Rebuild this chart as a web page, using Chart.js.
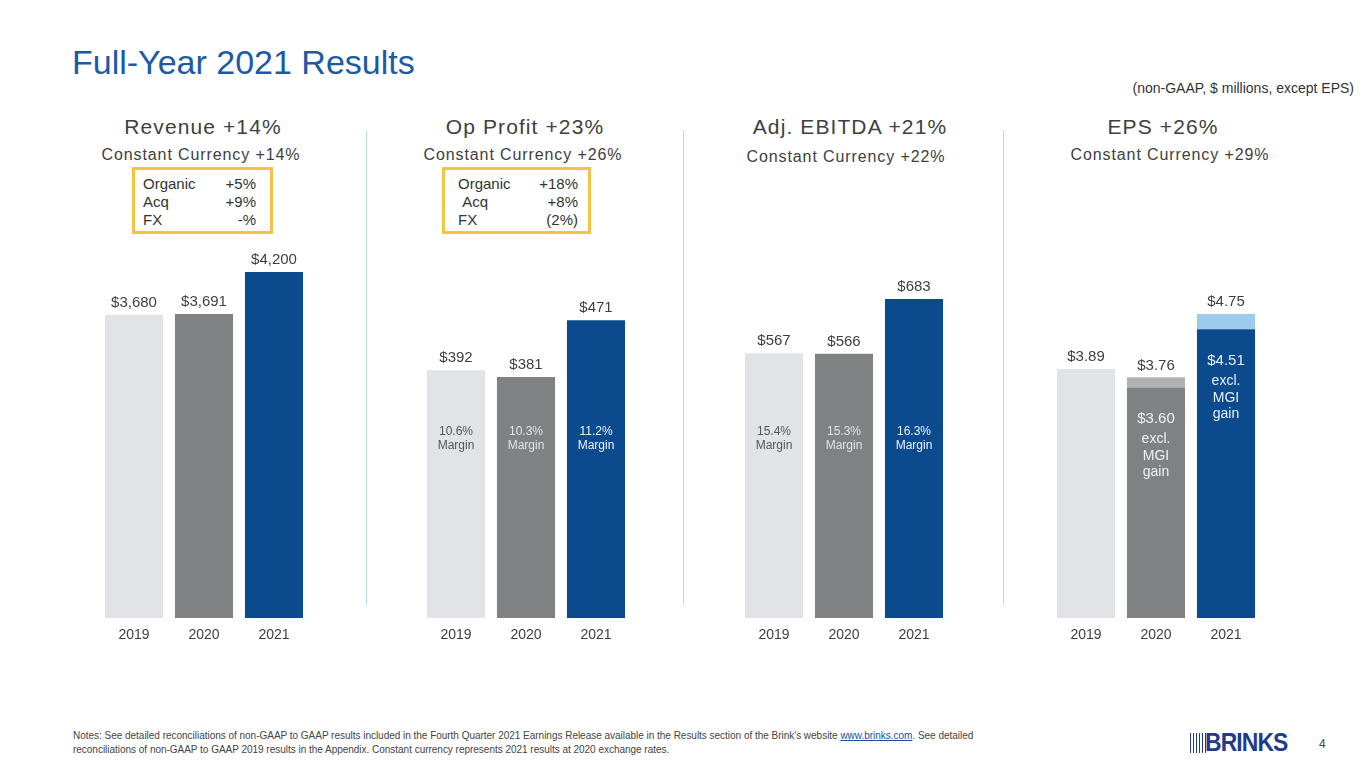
<!DOCTYPE html>
<html>
<head>
<meta charset="utf-8">
<script src="https://cdn.jsdelivr.net/npm/chart.js@4.4.1/dist/chart.umd.min.js"></script>
<style>
  body { margin: 0; width: 1365px; height: 768px; background: #fff; position: relative; overflow: hidden;
         font-family: "Liberation Sans", Arial, sans-serif; color: #404040; }
  .t { position: absolute; white-space: nowrap; }
  .c { text-align: center; width: 300px; }
  .head { font-size: 21px; letter-spacing: 1.1px; line-height: 24px; }
  .sub { font-size: 16px; letter-spacing: 0.9px; line-height: 20px; }
  .box { position: absolute; border: 3px solid #f4c343; box-sizing: border-box; font-size: 15px; line-height: 18px; color: #333; }
  .box .row { position: relative; height: 18px; }
  .box .r { position: absolute; right: 0; top: 0; }
  .sep { position: absolute; top: 130px; width: 1px; height: 475px; background: #bcd8ef; }
  canvas { position: absolute; top: 240px; }
  .notes { font-size: 10px; letter-spacing: -0.02px; line-height: 14px; color: #444; }
  .notes a { color: #1d4f9c; text-decoration: underline; }
</style>
</head>
<body>

<div class="t" style="left:72px;top:43px;font-size:34px;line-height:38px;color:#1c5aa6;">Full-Year 2021 Results</div>
<div class="t" style="right:11px;top:80px;font-size:14px;line-height:17px;color:#333;">(non-GAAP, $ millions, except EPS)</div>

<div class="t c head" style="left:53px;top:115px;">Revenue +14%</div>
<div class="t c sub" style="left:51px;top:145px;">Constant Currency +14%</div>
<div class="box" style="left:132px;top:167px;width:141px;height:67px;padding:5px 14px 0 8px;">
  <div class="row">Organic<span class="r">+5%</span></div>
  <div class="row">Acq<span class="r">+9%</span></div>
  <div class="row">FX<span class="r">-%</span></div>
</div>

<div class="t c head" style="left:375px;top:115px;">Op Profit +23%</div>
<div class="t c sub" style="left:373px;top:145px;">Constant Currency +26%</div>
<div class="box" style="left:442px;top:167px;width:149px;height:67px;padding:5px 10px 0 13px;">
  <div class="row">Organic<span class="r">+18%</span></div>
  <div class="row">&nbsp;Acq<span class="r">+8%</span></div>
  <div class="row">FX<span class="r">(2%)</span></div>
</div>

<div class="t c head" style="left:700px;top:115px;">Adj. EBITDA +21%</div>
<div class="t c sub" style="left:696px;top:147px;">Constant Currency +22%</div>

<div class="t c head" style="left:1013px;top:115px;">EPS +26%</div>
<div class="t c sub" style="left:1020px;top:145px;">Constant Currency +29%</div>

<div class="sep" style="left:366px;"></div>
<div class="sep" style="left:683px;"></div>
<div class="sep" style="left:1003px;"></div>

<canvas id="revenue" width="210" height="410" style="left:99px;"></canvas>
<canvas id="opProfit" width="210" height="410" style="left:421px;"></canvas>
<canvas id="ebitda" width="210" height="410" style="left:739px;"></canvas>
<canvas id="eps" width="210" height="410" style="left:1051px;"></canvas>

<div class="t notes" style="left:73px;top:729px;">Notes: See detailed reconciliations of non-GAAP to GAAP results included in the Fourth Quarter 2021 Earnings Release available in the Results section of the Brink's website <a>www.brinks.com</a>. See detailed<br>reconciliations of non-GAAP to GAAP 2019 results in the Appendix. Constant currency represents 2021 results at 2020 exchange rates.</div>

<div class="t" style="left:1190px;top:733px;width:16px;height:20px;background:repeating-linear-gradient(90deg,#1d3c8c 0 1.5px,#fff 1.5px 3px);"></div>
<div class="t" style="left:1205px;top:728px;font-size:26px;line-height:28px;font-weight:bold;color:#1d3c8c;letter-spacing:-1px;transform:scaleX(0.88);transform-origin:left top;">BRINKS</div>
<div class="t" style="left:1319px;top:737px;font-size:12px;line-height:14px;color:#444;">4</div>

<script>
// ---- data ----
const years = ['2019', '2020', '2021'];

const revenue = [3680, 3691, 4200];
const revenueLabels = ['$3,680', '$3,691', '$4,200'];

const opProfit = [392, 381, 471];
const opProfitLabels = ['$392', '$381', '$471'];
const opMargin = ['10.6%', '10.3%', '11.2%'];

const ebitda = [567, 566, 683];
const ebitdaLabels = ['$567', '$566', '$683'];
const ebitdaMargin = ['15.4%', '15.3%', '16.3%'];

const eps = [3.89, 3.76, 4.75];
const epsLabels = ['$3.89', '$3.76', '$4.75'];
const epsExMgi = [null, 3.60, 4.51];
const epsExMgiLabels = ['', '$3.60', '$4.51'];

// ---- colours ----
const barColors = ['#e1e3e7', '#7f8182', '#0b4a8c'];
const capColors = ['#e1e3e7', '#b1b2b3', '#9ccbec'];
const innerColors = ['#555555', '#e2e2e2', '#eaf2ff'];

const FONT = '"Liberation Sans", Arial, sans-serif';

// draws value labels above bars and text inside bars
const barText = {
  id: 'barText',
  afterDatasetsDraw(chart, args, opts) {
    const ctx = chart.ctx;
    const y = chart.scales.y;
    const x = chart.scales.x;
    ctx.save();
    ctx.textAlign = 'center';
    ctx.textBaseline = 'middle';
    opts.totals.forEach((v, i) => {
      const cx = x.getPixelForValue(i);
      ctx.fillStyle = '#404040';
      ctx.font = '15px ' + FONT;
      ctx.fillText(opts.labels[i], cx, y.getPixelForValue(v) - 12);

      if (opts.margins) {
        ctx.fillStyle = innerColors[i];
        ctx.font = '12px ' + FONT;
        ctx.fillText(opts.margins[i], cx, chart.chartArea.top + 182);
        ctx.fillText('Margin', cx, chart.chartArea.top + 196);
      }
      if (opts.inner && opts.inner[i] != null) {
        const top = y.getPixelForValue(opts.inner[i]);
        ctx.fillStyle = i === 2 ? '#e4eeff' : '#f0f0f0';
        ctx.font = '15px ' + FONT;
        ctx.fillText(opts.innerLabels[i], cx, top + 31);
        ctx.font = '14px ' + FONT;
        ['excl.', 'MGI', 'gain'].forEach((w, k) => ctx.fillText(w, cx, top + 52 + k * 16.5));
      }
    });
    ctx.restore();
  }
};

function makeChart(id, datasets, yMax, textOpts) {
  return new Chart(document.getElementById(id), {
    type: 'bar',
    data: { labels: years, datasets: datasets },
    options: {
      responsive: false,
      animation: false,
      layout: { padding: { top: 10, left: 0, right: 0, bottom: 0 } },
      plugins: { legend: { display: false }, tooltip: { enabled: false }, barText: textOpts },
      scales: {
        x: {
          stacked: true,
          grid: { display: false, drawTicks: false },
          border: { display: false },
          ticks: { color: '#404040', font: { family: FONT, size: 14 }, padding: 9 },
          afterFit: s => { s.height = 32; }
        },
        y: { stacked: true, display: false, min: 0, max: yMax }
      }
    },
    plugins: [barText]
  });
}

function single(values) {
  return [{ data: values, backgroundColor: barColors, barPercentage: 0.83, categoryPercentage: 1 }];
}

makeChart('revenue', single(revenue), 4467, { totals: revenue, labels: revenueLabels });
makeChart('opProfit', single(opProfit), 582, { totals: opProfit, labels: opProfitLabels, margins: opMargin });
makeChart('ebitda', single(ebitda), 788, { totals: ebitda, labels: ebitdaLabels, margins: ebitdaMargin });

const epsBase = eps.map((v, i) => epsExMgi[i] == null ? v : epsExMgi[i]);
const epsCap = eps.map((v, i) => +(v - epsBase[i]).toFixed(2));
makeChart('eps', [
  { data: epsBase, backgroundColor: barColors, barPercentage: 0.83, categoryPercentage: 1 },
  { data: epsCap, backgroundColor: capColors, barPercentage: 0.83, categoryPercentage: 1 }
], 5.75, { totals: eps, labels: epsLabels, inner: epsExMgi, innerLabels: epsExMgiLabels });
</script>
</body>
</html>
